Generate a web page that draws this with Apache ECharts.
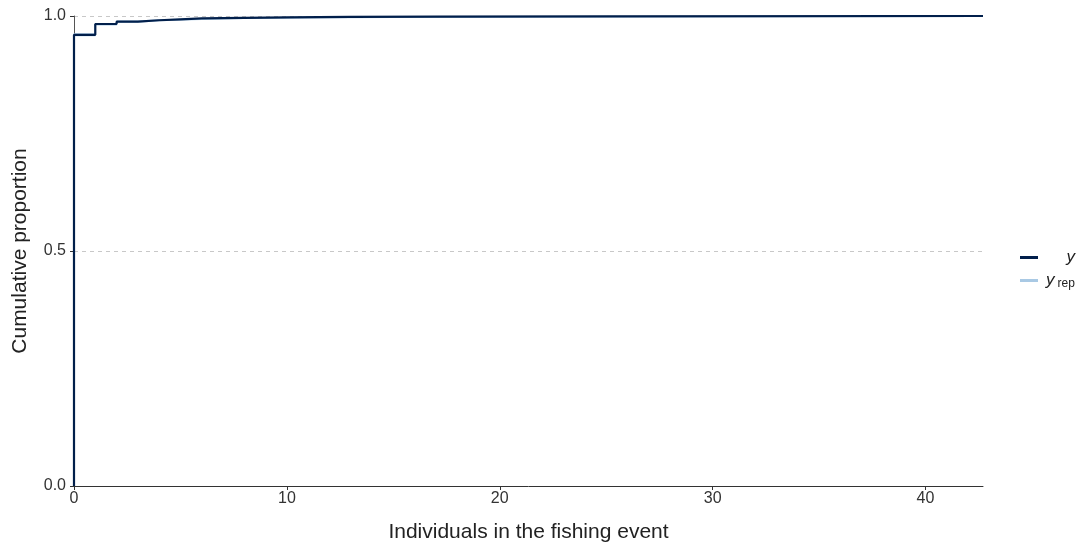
<!DOCTYPE html>
<html lang="en">
<head>
    <meta charset="UTF-8">
    <title>ECDF | ECharts</title>
    <script src="https://cdn.jsdelivr.net/npm/echarts@6/dist/echarts.min.js"></script>
</head>
<body style="margin:0">
<div id="main" style="width: 1084px; height: 549px;"></div>

<script type="text/javascript">
    // observed ECDF (y)
    var yX = [0, 0, 1, 2, 3, 4, 5, 6, 8, 10, 13, 17, 25, 42.7];
    var yP = [0, 0.960, 0.983, 0.988, 0.991, 0.993, 0.995, 0.996, 0.997, 0.998, 0.9985, 0.999, 1.0, 1.0];
    // replicated ECDFs (y_rep), mostly hidden under y
    var repX = [0, 0, 1, 2, 3, 4, 6, 8, 11, 15, 22, 42.7];
    var repP1 = [0, 0.958, 0.981, 0.987, 0.990, 0.993, 0.995, 0.996, 0.997, 0.998, 0.999, 1.0];
    var repP2 = [0, 0.962, 0.984, 0.989, 0.992, 0.994, 0.996, 0.997, 0.9975, 0.9985, 0.9995, 1.0];
    var xTicks = [0, 10, 20, 30, 40];
    var yTicks = [0, 0.5, 1];

    function pairs(xs, ys) {
        return xs.map(function (x, i) { return [x, ys[i]]; });
    }

    var font = '"Liberation Sans", Arial, sans-serif';
    var dark = '#011f4b';
    var light = '#a9c9e4';

    var myChart = echarts.init(document.getElementById('main'));

    var option = {
        animation: false,
        textStyle: { fontFamily: font },
        grid: { left: 74, right: 101, top: 16, bottom: 63 },
        legend: {
            orient: 'vertical',
            left: 1015,
            top: 244,
            itemWidth: 18,
            itemHeight: 3,
            itemGap: 6,
            icon: 'rect',
            data: [
                { name: 'y', itemStyle: { color: dark, opacity: 1 } },
                { name: 'yrep', itemStyle: { color: light, opacity: 1 } }
            ],
            formatter: function (name) {
                return name === 'y' ? '{a|y}' : '{i|y}{s|rep}';
            },
            textStyle: {
                rich: {
                    a: { fontStyle: 'italic', fontSize: 17, color: '#222', fontFamily: font, width: 32, align: 'right' },
                    i: { fontStyle: 'italic', fontSize: 17, color: '#222', fontFamily: font, padding: [0, 3, 0, 3] },
                    s: { fontSize: 12, color: '#222', fontFamily: font, padding: [6, 0, 0, 0] }
                }
            }
        },
        xAxis: {
            type: 'value',
            min: 0,
            max: 42.7,
            name: 'Individuals in the fishing event',
            nameLocation: 'middle',
            nameGap: 36,
            nameTextStyle: { fontSize: 21, color: '#222', fontFamily: font },
            splitLine: { show: false },
            axisLine: { onZero: false, lineStyle: { color: '#333', width: 1 } },
            axisTick: { customValues: xTicks, length: 4, lineStyle: { color: '#333' } },
            axisLabel: { customValues: xTicks, fontSize: 16, color: '#333', margin: 5 }
        },
        yAxis: {
            type: 'value',
            min: 0,
            max: 1,
            interval: 0.5,
            name: 'Cumulative proportion',
            nameLocation: 'middle',
            nameGap: 43,
            nameTextStyle: { fontSize: 21, color: '#222', fontFamily: font },
            axisLine: { show: true, lineStyle: { color: '#555', width: 1 } },
            axisTick: { show: true, length: 4, lineStyle: { color: '#333' } },
            axisLabel: {
                fontSize: 16, color: '#333', margin: 8,
                formatter: function (v) { return v.toFixed(1); }
            },
            splitLine: { show: true, lineStyle: { color: '#c8c8c8', type: [4, 4], width: 1 } }
        },
        series: [
            {
                name: 'yrep',
                type: 'line',
                step: 'end',
                symbol: 'none',
                color: light,
                lineStyle: { color: light, width: 1.2 },
                data: pairs(repX, repP1)
            },
            {
                name: 'yrep',
                type: 'line',
                step: 'end',
                symbol: 'none',
                color: light,
                lineStyle: { color: light, width: 1.2 },
                data: pairs(repX, repP2)
            },
            {
                name: 'y',
                type: 'line',
                step: 'end',
                symbol: 'none',
                color: dark,
                lineStyle: { color: dark, width: 2.2 },
                data: pairs(yX, yP)
            }
        ]
    };

    myChart.setOption(option);
</script>
</body>
</html>
